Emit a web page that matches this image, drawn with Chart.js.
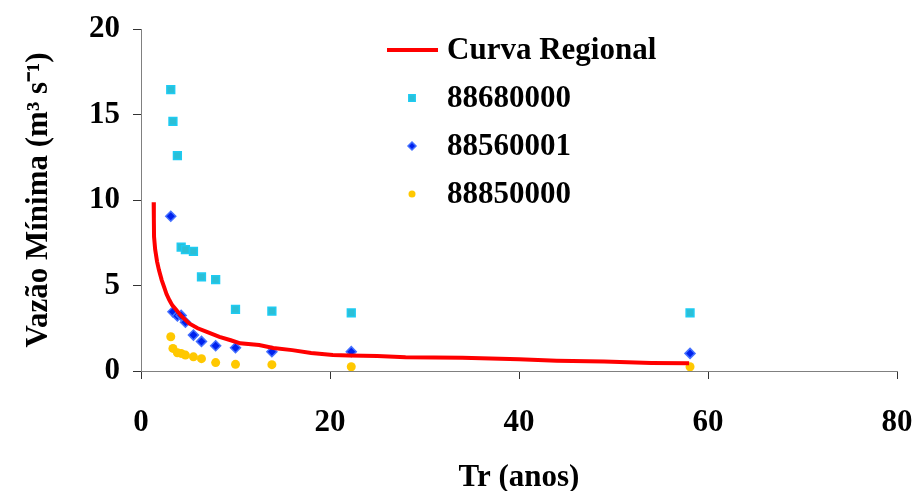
<!DOCTYPE html>
<html>
<head>
<meta charset="utf-8">
<script src="https://cdn.jsdelivr.net/npm/chart.js@4"></script>
<style>
  body { margin: 0; background: #fff; }
</style>
</head>
<body>
<canvas id="chart" width="912" height="491"></canvas>
<script>
// tempo de retorno (anos) das vazoes observadas
var trAnos = [3.15, 3.38, 3.85, 4.25, 4.7, 5.55, 6.4, 7.9, 10.0, 13.85, 22.25, 58.1];
var q88680000 = [16.45, 14.6, 12.6, 7.25, 7.1, 7.0, 5.5, 5.35, 3.6, 3.5, 3.4, 3.4];
var q88560001 = [9.05, 3.46, 3.22, 3.25, 2.85, 2.1, 1.73, 1.48, 1.36, 1.13, 1.13, 1.03];
var q88850000 = [2.0, 1.32, 1.07, 1.03, 0.93, 0.83, 0.72, 0.49, 0.39, 0.37, 0.25, 0.25];

// curva regional
var curvaTr = [1.34, 1.36, 1.38, 1.5, 1.7, 1.9, 2.2, 2.45, 2.7, 3.0, 3.3, 3.7, 4.2, 5.1, 6.0, 6.9, 8.3, 9.5, 10.5, 12.5, 14, 16, 18, 20.3, 22, 25, 28, 34, 40, 44, 49, 54, 58];
var curvaQ = [9.87, 8.9, 7.85, 7.1, 6.4, 5.9, 5.3, 4.9, 4.5, 4.15, 3.85, 3.6, 3.25, 2.78, 2.5, 2.3, 2.0, 1.8, 1.62, 1.52, 1.35, 1.22, 1.05, 0.93, 0.9, 0.87, 0.8, 0.78, 0.68, 0.6, 0.55, 0.47, 0.45];

var xTicks = [0, 20, 40, 60, 80];
var yTicks = [0, 5, 10, 15, 20];

function pares(xs, ys) {
  return xs.map(function (x, i) { return { x: x, y: ys[i] }; });
}

var fonte = { family: "'Liberation Serif', 'Times New Roman', serif", size: 31, weight: 'bold', lineHeight: 1 };
var fonteTitulo = { family: "'Liberation Serif', 'Times New Roman', serif", size: 31, weight: 'bold', lineHeight: 0.85 };

// legenda desenhada dentro da area do grafico
var legenda = {
  id: 'legenda',
  afterDraw: function (chart) {
    var ctx = chart.ctx;
    ctx.save();
    ctx.font = "bold 31px 'Liberation Serif'";
    ctx.textBaseline = 'middle';
    chart.data.datasets.forEach(function (ds, i) {
      var y = 50 + i * 48;
      if (ds.showLine) {
        ctx.strokeStyle = ds.borderColor;
        ctx.lineWidth = ds.borderWidth;
        ctx.beginPath();
        ctx.moveTo(387, y);
        ctx.lineTo(438, y);
        ctx.stroke();
      } else {
        ctx.fillStyle = ds.backgroundColor;
        ctx.strokeStyle = ds.borderColor;
        ctx.lineWidth = ds.borderWidth;
        Chart.helpers.drawPoint(ctx, { pointStyle: ds.pointStyle, radius: ds.pointRadius - 1, borderWidth: ds.borderWidth, rotation: 0 }, 412, y);
      }
      ctx.fillStyle = '#000';
      ctx.fillText(ds.label, 447, y + 1);
    });
    ctx.restore();
  }
};

new Chart(document.getElementById('chart'), {
  type: 'scatter',
  data: {
    datasets: [{
      label: 'Curva Regional',
      data: pares(curvaTr, curvaQ),
      showLine: true,
      borderColor: '#FF0000',
      borderWidth: 4,
      pointRadius: 0,
      tension: 0
    }, {
      label: '88680000',
      data: pares(trAnos, q88680000),
      pointStyle: 'rect',
      pointRadius: 5.5,
      backgroundColor: '#2BBFD6',
      borderColor: '#1ECBF2',
      borderWidth: 1.5
    }, {
      label: '88560001',
      data: pares(trAnos, q88560001),
      pointStyle: 'rectRot',
      pointRadius: 5,
      backgroundColor: '#0022EE',
      borderColor: '#4470FF',
      borderWidth: 1.5
    }, {
      label: '88850000',
      data: pares(trAnos, q88850000),
      pointStyle: 'circle',
      pointRadius: 4.5,
      backgroundColor: '#FFC800',
      borderColor: '#FFC800',
      borderWidth: 0
    }]
  },
  options: {
    responsive: false,
    animation: false,
    layout: { padding: { top: 29, right: 15, bottom: 0, left: 0 } },
    plugins: {
      legend: { display: false },
      tooltip: { enabled: false }
    },
    scales: {
      x: {
        type: 'linear',
        min: 0,
        max: 80,
        afterBuildTicks: function (s) { s.ticks = xTicks.map(function (v) { return { value: v }; }); },
        afterFit: function (s) { s.height = 120; s.paddingLeft = 0; s.paddingRight = 0; },
        ticks: { font: fonte, color: '#000', padding: 28, autoSkip: false, maxRotation: 0 },
        grid: { drawOnChartArea: false, drawTicks: true, tickLength: 8, color: '#333' },
        border: { color: '#808080', width: 1 },
        title: { display: true, text: 'Tr (anos)', font: fonteTitulo, color: '#000', padding: { top: 0, bottom: 0 } }
      },
      y: {
        type: 'linear',
        min: 0,
        max: 20,
        afterBuildTicks: function (s) { s.ticks = yTicks.map(function (v) { return { value: v }; }); },
        afterFit: function (s) { s.width = 141; },
        ticks: { font: fonte, color: '#000', padding: 13 },
        grid: { drawOnChartArea: false, drawTicks: true, tickLength: 8, color: '#333' },
        border: { color: '#808080', width: 1 },
        title: { display: true, text: 'Vazão Mínima (m³ s⁻¹)', font: fonte, color: '#000', padding: { top: 23, bottom: 0 } }
      }
    }
  },
  plugins: [legenda]
});
</script>
</body>
</html>
